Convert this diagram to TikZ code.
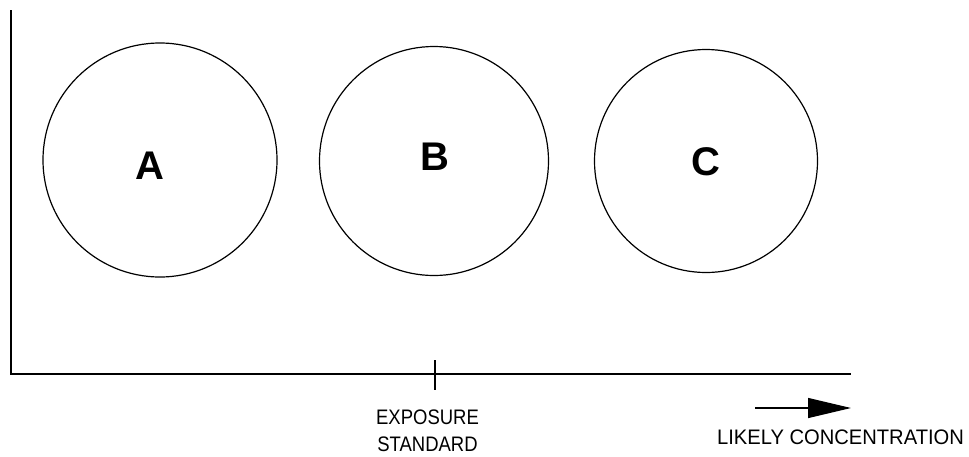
\documentclass[tikz,border=0pt]{standalone}
\usepackage{fontspec}
\usepackage{graphicx}
\setmainfont{Liberation Sans}
\usetikzlibrary{arrows.meta}
\begin{document}
\begin{tikzpicture}[x=1pt,y=-1pt,
  circ/.style={draw,line width=1.2pt,circle,minimum size=#1,inner sep=0pt},
  letter/.style={font=\fontsize{40}{40}\selectfont\bfseries},
  lbl/.style={font=\fontsize{21}{21}\selectfont,anchor=base,inner sep=0pt},
  axis/.style={line width=1.5pt}]
\useasboundingbox (0,0) rectangle (969,456);
\coordinate (top) at (11,10);
\coordinate (orig) at (11,374);
\coordinate (xend) at (851,374);
\draw[axis] (top) -- (orig) -- (xend);
\node[circ=234pt] (A) at (160,160) {};
\node[circ=229pt] (B) at (434,161) {};
\node[circ=223pt] (C) at (706,161) {};
\node[letter] (la) at (150,166) {A};
\node[letter] (lb) at (435,157) {B};
\node[letter] (lc) at (706,162) {C};
\coordinate (t1) at (435,360);
\coordinate (t2) at (435,390);
\draw[line width=2pt] (t1) -- (t2);
\node[lbl] (ex) at (427.5,424) {\scalebox{0.88}[1]{EXPOSURE}};
\node[lbl] (st) at (427.5,451) {\scalebox{0.88}[1]{STANDARD}};
\coordinate (a1) at (755,408);
\coordinate (a2) at (851,408);
\draw[line width=1.2pt,-{Triangle[length=43pt,width=20pt]}] (a1) -- (a2);
\node[lbl] (lk) at (840.5,444) {\scalebox{0.96}[1]{LIKELY CONCENTRATION}};
\end{tikzpicture}
\end{document}
